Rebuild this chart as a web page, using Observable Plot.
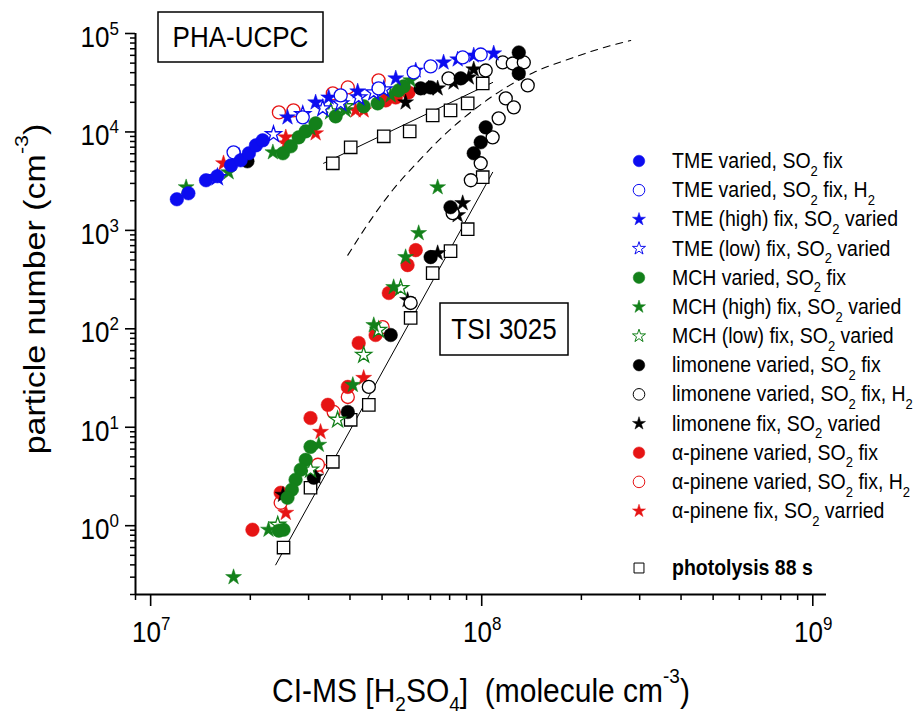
<!DOCTYPE html>
<html><head><meta charset="utf-8">
<script src="https://cdn.jsdelivr.net/npm/d3@7"></script>
<script src="https://cdn.jsdelivr.net/npm/@observablehq/plot@0.6"></script>
<style>body{margin:0;background:#fff;} #chart{width:918px;height:714px;}</style>
</head><body><div id="chart"></div>
<script>
// ---- data: [H2SO4] (molecule cm^-3), particle number (cm^-3) ----
const tmeVaried = [[1.20e7,2070],[1.30e7,2380],[1.47e7,3230],[1.59e7,3550],[1.75e7,4580],[1.87e7,5150],[1.98e7,6070],[2.08e7,7310],[2.18e7,8220]];
const tmeVariedH2 = [[1.78e7,6210],[2.88e7,14060],[3.75e7,23500],[4.88e7,27700],[6.23e7,40230],[7.01e7,46300],[8.76e7,57100],[9.93e7,61200]];
const tmeHighFix = [[2.59e7,14060],[3.15e7,19950],[3.45e7,22400],[4.22e7,25800],[5.50e7,35000],[6.32e7,42100],[7.67e7,50800],[8.46e7,54500],[9.46e7,59800],[1.087e8,62700]];
const tmeLowFix = [[1.59e7,3470],[1.85e7,5520],[2.35e7,9460],[2.88e7,15090],[3.31e7,17340],[3.75e7,19500],[4.25e7,22400],[4.72e7,25200],[5.06e7,27000]];
const mchVaried = [[2.51e7,6070],[2.65e7,7145],[2.80e7,8815],[2.94e7,10140],[3.15e7,12220],[3.62e7,14390],[4.40e7,18200],[4.85e7,19500],[5.61e7,26400],[5.81e7,29000],
  [3.04e7,6.32],[2.94e7,4.67],[2.84e7,3.70],[2.74e7,2.93],[2.67e7,2.32],[2.59e7,1.92],[2.52e7,0.91],[2.44e7,0.89]];
const mchHighFix = [[1.28e7,2740],[1.72e7,3890],[2.34e7,6210],[3.04e7,10880],[3.88e7,16560],[5.31e7,23500],[6.10e7,33400],
  [7.36e7,2740],[6.45e7,938],[5.89e7,535],[5.42e7,265],[4.72e7,109],[4.08e7,26.9],[3.22e7,6.63],[2.27e7,0.91],[1.78e7,0.30]];
const mchLowFix = [[3.50e7,16180],[3.88e7,18200],[5.69e7,259],[4.88e7,97.3],[4.40e7,54.2],[3.67e7,11.9],[3.04e7,3.70],[2.42e7,1.02]];
const limVaried = [[1.96e7,5030],[6.54e7,27700],[7.01e7,28300],[8.64e7,35000],[1.294e8,64200],[1.294e8,39300],
  [1.028e8,11130],[9.93e7,7845],[9.46e7,6070],[8.05e7,1720],[7.01e7,535],[5.31e7,86.5],[3.94e7,14.3],[3.11e7,3.07]];
const limVariedH2 = [[7.94e7,35000],[1.028e8,42100],[1.157e8,50800],[1.241e8,49600],[1.340e8,50800],[1.377e8,29700],
  [1.182e8,21900],[1.250e8,17770],[1.125e8,13740],[1.079e8,8815],[9.93e7,4805],[9.27e7,3230],[8.17e7,1494],[6.10e7,183],[4.56e7,25.7]];
const limFix = [[5.89e7,19950],[6.92e7,27700],[7.36e7,27700],[8.22e7,31800],[9.14e7,35800],[9.46e7,43150],
  [8.76e7,1890],[8.46e7,1426],[7.36e7,587],[5.97e7,196],[3.15e7,3.14],[2.51e7,2.06]];
const apVaried = [[5.13e7,20920],[5.50e7,22400],[6.01e7,25200],
  [6.32e7,630],[5.97e7,444],[5.24e7,231],[4.78e7,86.5],[4.25e7,71.8],[3.94e7,25.7],[3.43e7,16.9],[3.04e7,12.4],[2.47e7,2.16],[2.03e7,0.91]];
const apVariedH2 = [[2.44e7,15800],[2.70e7,16560],[3.55e7,24640],[3.94e7,28300],[4.88e7,33400],
  [5.02e7,104],[3.94e7,20.3],[3.57e7,14.3],[3.20e7,4.16],[2.47e7,1.71]];
const apFix = [[1.66e7,4805],[2.56e7,8815],[2.56e7,7660],[3.15e7,9680],[4.16e7,16560],[4.40e7,16560],
  [4.40e7,31.7],[3.26e7,8.97],[3.22e7,3.96],[2.56e7,1.35]];
const photolysis = [[3.55e7,4805],[4.02e7,6980],[5.06e7,9030],[6.06e7,10140],[7.11e7,14730],[8.05e7,16560],[9.07e7,19500],[1.007e8,31100],
  [2.52e7,0.60],[3.04e7,2.43],[3.55e7,4.46],[4.02e7,11.9],[4.56e7,16.9],[6.10e7,129],[7.11e7,368],[8.05e7,615],[9.07e7,1028],[1.007e8,3470]];
const fitUCPC = [[3.33e7,4805],[1.079e8,31800]];
const fitTSI = [[2.386e7,0.40],[1.079e8,3890]];
const modelCurve = [[3.94e7,560],[4.60e7,1250],[5.40e7,2600],[6.50e7,5200],[7.52e7,8600],[1.014e8,19950],[1.436e8,40230],[1.857e8,55800],[2.288e8,70450],[2.818e8,84900]];

const legendLabels = ["TME varied, SO_2 fix","TME varied, SO_2 fix, H_2","TME (high) fix, SO_2 varied","TME (low) fix, SO_2 varied",
  "MCH varied, SO_2 fix","MCH (high) fix, SO_2 varied","MCH (low) fix, SO_2 varied",
  "limonene varied, SO_2 fix","limonene varied, SO_2 fix, H_2","limonene fix, SO_2 varied",
  "α-pinene varied, SO_2 fix","α-pinene varied, SO_2 fix, H_2","α-pinene fix, SO_2 varried","photolysis 88 s"];
const xDomain = [9e6, 1.1e9];
const yDomain = [0.2, 1e5];
const xMajor = [1e7, 1e8, 1e9];
const yMajor = [1e0, 1e1, 1e2, 1e3, 1e4, 1e5];

const BLUE = "#0c0cf0", GREEN = "#13801a", RED = "#e61414", BLACK = "#000";
const series = [
  {data: tmeVaried, symbol: "circle", color: BLUE, filled: true},
  {data: tmeVariedH2, symbol: "circle", color: BLUE, filled: false},
  {data: tmeHighFix, symbol: "star", color: BLUE, filled: true},
  {data: tmeLowFix, symbol: "star", color: BLUE, filled: false},
  {data: mchVaried, symbol: "circle", color: GREEN, filled: true},
  {data: mchHighFix, symbol: "star", color: GREEN, filled: true},
  {data: mchLowFix, symbol: "star", color: GREEN, filled: false},
  {data: limVaried, symbol: "circle", color: BLACK, filled: true},
  {data: limVariedH2, symbol: "circle", color: BLACK, filled: false},
  {data: limFix, symbol: "star", color: BLACK, filled: true},
  {data: apVaried, symbol: "circle", color: RED, filled: true},
  {data: apVariedH2, symbol: "circle", color: RED, filled: false},
  {data: apFix, symbol: "star", color: RED, filled: true},
  {data: photolysis, symbol: "square", color: BLACK, filled: false}
].map((s, i) => ({...s, label: legendLabels[i]}));

const xMinor = [], yMinor = [];
for (const e of [6, 7, 8]) for (let k = 2; k <= 9; k++) { const v = k * 10 ** e; if (v >= xDomain[0] && v <= xDomain[1]) xMinor.push(v); }
for (const e of [-1, 0, 1, 2, 3, 4]) for (let k = 2; k <= 9; k++) { const v = k * 10 ** e; if (v >= yDomain[0] && v <= yDomain[1]) yMinor.push(v); }

const rFor = s => s.symbol === "star" ? 5 : s.symbol === "square" ? 7 : (s.filled ? 6.8 : 6.5);
const noText = () => "";

const plot = Plot.plot({
  width: 918, height: 714,
  marginLeft: 135, marginRight: 92, marginTop: 33, marginBottom: 120,
  style: {fontFamily: "'Liberation Sans', Arial, sans-serif", background: "white"},
  x: {type: "log", domain: xDomain},
  y: {type: "log", domain: yDomain},
  marks: [
    Plot.axisX({ticks: xMinor, tickSize: 6, tickFormat: noText, label: null, strokeWidth: 1.5}),
    Plot.axisX({ticks: xMajor, tickSize: 12, tickFormat: noText, label: null, strokeWidth: 1.6}),
    Plot.axisY({ticks: yMinor, tickSize: 5, tickFormat: noText, label: null, strokeWidth: 1.5}),
    Plot.axisY({ticks: yMajor, tickSize: 10, tickFormat: noText, label: null, strokeWidth: 1.6}),
    Plot.ruleY([yDomain[0]], {stroke: "black", strokeWidth: 2}),
    Plot.ruleX([xDomain[0]], {stroke: "black", strokeWidth: 2}),
    Plot.line(fitUCPC, {x: d => d[0], y: d => d[1], stroke: "black", strokeWidth: 1}),
    Plot.line(fitTSI, {x: d => d[0], y: d => d[1], stroke: "black", strokeWidth: 1}),
    Plot.line(modelCurve, {x: d => d[0], y: d => d[1], stroke: "black", strokeWidth: 1.1, strokeDasharray: "7,6", curve: "monotone-x"}),
    ...series.slice().reverse().map(s => Plot.dot(s.data, {
      x: d => d[0], y: d => d[1], symbol: s.symbol, r: rFor(s),
      fill: s.filled ? s.color : "white", stroke: s.color, strokeWidth: s.filled ? 0.5 : 1.3
    }))
  ]
});
document.getElementById("chart").appendChild(plot);

// ---- text annotations drawn with d3 on the Plot SVG ----
const S = 1.1;
const svg = d3.select(plot);
const xs = plot.scale("x"), ys = plot.scale("y");
const FONT = "'Liberation Sans', Arial, sans-serif";
const g = svg.append("g").attr("font-family", FONT).attr("fill", "black").attr("text-anchor", "start");

function pow10(x, y, e, anchor) {
  const t = g.append("text").attr("transform", `translate(${x},${y}) scale(1,${S})`)
    .attr("text-anchor", anchor).attr("font-size", 26);
  t.append("tspan").text("10");
  t.append("tspan").attr("font-size", 17).attr("dy", -11).text(String(e));
}
xMajor.forEach(v => pow10(xs.apply(v) + 1, ys.apply(yDomain[0]) + 48, Math.round(Math.log10(v)), "middle"));
yMajor.forEach(v => pow10(119, ys.apply(v) + 14, Math.round(Math.log10(v)), "end"));

// x title
{
  const t = g.append("text").attr("transform", `translate(481,702) scale(1,${S})`)
    .attr("text-anchor", "middle").attr("font-size", 30).style("white-space", "pre");
  t.append("tspan").text("CI-MS [H");
  t.append("tspan").attr("font-size", 19).attr("dy", 8).text("2");
  t.append("tspan").attr("dy", -8).text("SO");
  t.append("tspan").attr("font-size", 19).attr("dy", 8).text("4");
  t.append("tspan").attr("dy", -8).text("]  (molecule cm");
  t.append("tspan").attr("font-size", 19).attr("dy", -17).text("-3");
  t.append("tspan").attr("dy", 17).text(")");
}
// y title
{
  const t = g.append("text").attr("transform", `translate(45,289) rotate(-90) scale(${S * 1.03},1)`)
    .attr("text-anchor", "middle").attr("font-size", 30);
  t.append("tspan").text("particle number (cm");
  t.append("tspan").attr("font-size", 19).attr("dy", -17).text("-3");
  t.append("tspan").attr("dy", 17).text(")");
}
// labelled boxes
function box(x0, y0, x1, y1, label) {
  g.append("rect").attr("x", x0).attr("y", y0).attr("width", x1 - x0).attr("height", y1 - y0)
    .attr("fill", "white").attr("stroke", "black").attr("stroke-width", 1.5);
  g.append("text").attr("transform", `translate(${(x0 + x1) / 2},${(y0 + y1) / 2 + 10}) scale(1,${S})`)
    .attr("text-anchor", "middle").attr("font-size", 26).text(label);
}
box(158, 12, 323, 62, "PHA-UCPC");
box(440, 303, 568, 355, "TSI 3025");

// legend
const legendY = i => i < 13 ? 161 + i * 29.17 : 568;
series.forEach((s, i) => {
  const cy = legendY(i);
  const type = s.symbol === "star" ? d3.symbolStar : s.symbol === "square" ? d3.symbolSquare : d3.symbolCircle;
  const r = s.symbol === "star" ? 4.1 : s.symbol === "square" ? 5.6 : 5.8;
  g.append("path").attr("d", d3.symbol(type, Math.PI * r * r)())
    .attr("transform", `translate(639,${cy})`)
    .attr("fill", s.filled ? s.color : "white").attr("stroke", s.color).attr("stroke-width", s.filled ? 0.5 : 1);
  const t = g.append("text").attr("transform", `translate(672,${cy + 7}) scale(1,${S})`)
    .attr("text-anchor", "start").attr("font-size", 19.5).attr("font-weight", i === 13 ? "bold" : null);
  s.label.split(/_(\d)/).forEach((part, j) => {
    if (j % 2 === 1) t.append("tspan").attr("font-size", 13).attr("dy", 7).text(part);
    else if (part) t.append("tspan").attr("dy", j > 0 ? -7 : 0).text(part);
  });
});
</script>
</body></html>
